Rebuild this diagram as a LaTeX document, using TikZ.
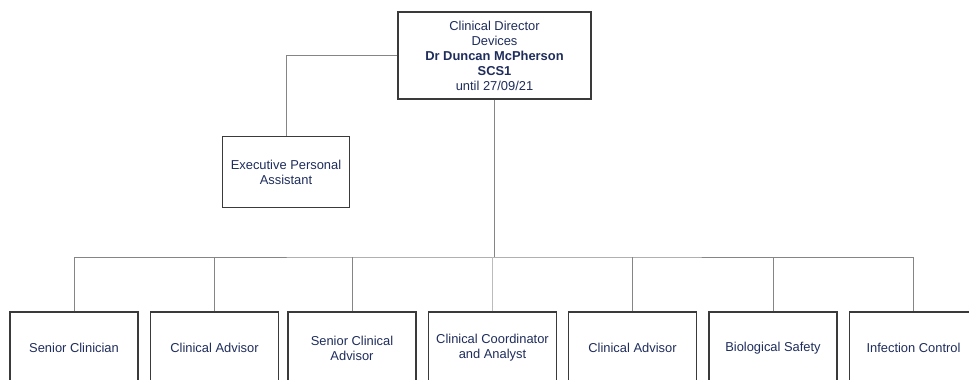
\documentclass[tikz,border=0pt]{standalone}
\usepackage{fontspec}
\setmainfont{Liberation Sans}
\definecolor{navy}{HTML}{1F2D5C}
\definecolor{boxline}{HTML}{3A3A3A}
\definecolor{wire}{HTML}{858585}
\definecolor{palewire}{HTML}{BBBBBB}
\begin{document}
\begin{tikzpicture}[x=1bp,y=-1bp,
  post/.style={draw=boxline, line width=1.1bp, fill=white, align=center,
    text=navy, font=\fontsize{12.9bp}{15bp}\selectfont, inner sep=0pt},
  staffbox/.style={post, minimum width=128bp, minimum height=72bp},
  link/.style={draw=wire, line width=0.8bp}]
\useasboundingbox (0,0) rectangle (969,379);

% director and assistant
\node[post, minimum width=193bp, minimum height=87bp] (dir) at (494.5,55.5)
  {Clinical Director\\Devices\\\textbf{Dr Duncan McPherson}\\\textbf{SCS1}\\until 27/09/21};
\node[post, minimum width=127bp, minimum height=71bp] (epa) at (286,172)
  {Executive Personal\\Assistant};

% bottom row of posts
\node[staffbox] (s1) at (74,348)    {Senior Clinician};
\node[staffbox] (s2) at (214.5,348) {Clinical Advisor};
\node[staffbox] (s3) at (352,348)   {Senior Clinical\\Advisor};
\node[staffbox] (s4) at (492.5,348) {Clinical Coordinator\\and Analyst};
\node[staffbox] (s5) at (632.5,348) {Clinical Advisor};
\node[staffbox] (s6) at (773,348)   {Biological Safety};
\node[staffbox] (s7) at (913.5,348) {Infection Control};

\coordinate (bus) at (494.5,257);

% reporting lines
\draw[link] (dir.west) -| (epa.north);
\draw[link] (dir.south) -- (bus);
\draw[link] (s1.north) |- (bus) -| (s7.north);
\foreach \k in {s2,s3,s5,s6}
  \draw[link] (\k.north) -- (\k.north |- bus);
\draw[draw=palewire, line width=0.8bp] (s4.north) -- (s4.north |- bus);
\end{tikzpicture}
\end{document}
